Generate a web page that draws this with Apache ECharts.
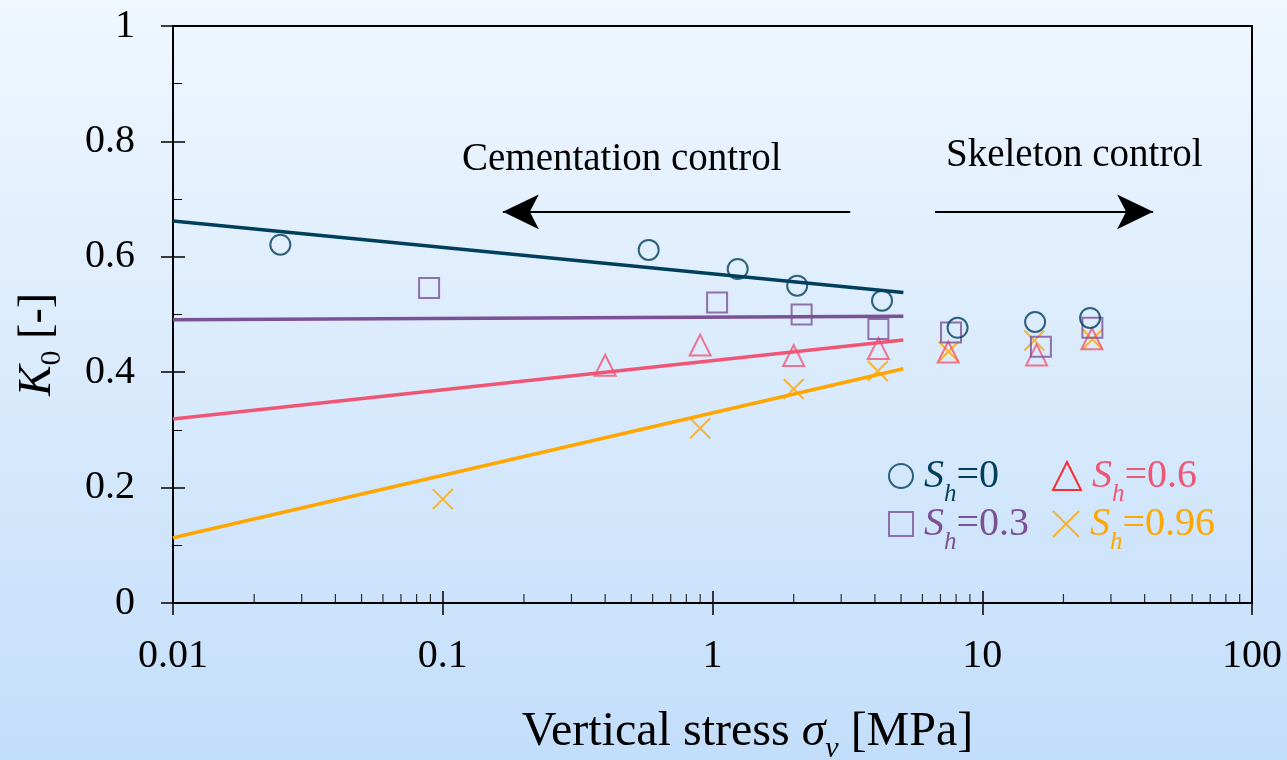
<!DOCTYPE html>
<html>
<head>
<meta charset="utf-8">
<script src="https://cdn.jsdelivr.net/npm/echarts@6/dist/echarts.min.js"></script>
<style>
html,body{margin:0;padding:0;}
#main{width:1287px;height:760px;}
</style>
</head>
<body>
<div id="main"></div>
<script>
// ---- data ----
const sh0X = [0.025, 0.58, 1.24, 2.06, 4.25, 8.1, 15.7, 25.1];
const sh0Y = [0.621, 0.612, 0.579, 0.550, 0.524, 0.477, 0.487, 0.494];
const sh03X = [0.089, 1.04, 2.14, 4.12, 7.66, 16.5, 25.6];
const sh03Y = [0.546, 0.521, 0.500, 0.475, 0.469, 0.444, 0.477];
const sh06X = [0.40, 0.90, 2.0, 4.12, 7.48, 15.9, 25.5];
const sh06Y = [0.412, 0.447, 0.429, 0.441, 0.435, 0.430, 0.458];
const sh096X = [0.1, 0.9, 2.0, 4.1, 7.5, 15.6, 25.6];
const sh096Y = [0.180, 0.303, 0.371, 0.402, 0.436, 0.455, 0.457];

const fitX = [0.01, 5.1];
const fit0Y = [0.662, 0.538];
const fit03Y = [0.491, 0.497];
const fit06Y = [0.319, 0.456];
const fit096Y = [0.113, 0.406];

const xTickLabels = ['0.01', '0.1', '1', '10', '100'];
const xMinorTicks = [0.02,0.03,0.04,0.05,0.06,0.07,0.08,0.09,
                     0.2,0.3,0.4,0.5,0.6,0.7,0.8,0.9,
                     2,3,4,5,6,7,8,9,
                     20,30,40,50,60,70,80,90];

const arrowLeft = [[3.24, 0.678], [0.167, 0.678]];
const arrowRight = [[6.68, 0.678], [43, 0.678]];

const legendLabels = {'Sh=0': '=0', 'Sh=0.3': '=0.3', 'Sh=0.6': '=0.6', 'Sh=0.96': '=0.96'};

// ---- styles ----
const FONT = "'Liberation Serif', 'Times New Roman', serif";
const C0 = '#003f5c', C1 = '#7a5195', C2 = '#ef5675', C3 = '#ffa600';
const crossPath = 'path://M0,0L10,10M10,0L0,10';

function zip(xs, ys) { return xs.map((x, i) => [x, ys[i]]); }

function legendCfg(name, color, left, top, size, iconOverride) {
  const item = {name: name};
  if (iconOverride) item.itemStyle = iconOverride;
  return {
    data: [item],
    left: left, top: top, padding: 0,
    itemWidth: size, itemHeight: size,
    selectedMode: false,
    formatter: n => '{s|S}{h|h}{n|' + legendLabels[n] + '}',
    textStyle: {
      color: color, fontFamily: FONT,
      rich: {
        s: {fontStyle: 'italic', fontSize: 40, lineHeight: 40, verticalAlign: 'top', color: color, fontFamily: FONT, padding: [0, 0, 0, 6]},
        h: {fontStyle: 'italic', fontSize: 25, lineHeight: 25, verticalAlign: 'top', color: color, fontFamily: FONT, padding: [26, 0, 0, 0]},
        n: {fontSize: 40, lineHeight: 40, verticalAlign: 'top', color: color, fontFamily: FONT}
      }
    }
  };
}

function scatter(name, data, symbol, color, size) {
  return {
    name: name, type: 'scatter', data: data, symbol: symbol, symbolSize: size,
    itemStyle: {color: 'transparent', borderColor: color, borderWidth: 2},
    emphasis: {disabled: true}, z: 4
  };
}
function fitLine(name, data, color) {
  return {
    name: name, type: 'line', data: data, showSymbol: false, symbol: 'none',
    lineStyle: {color: color, width: 3.5}, emphasis: {disabled: true}, z: 3, silent: true
  };
}

const chart = echarts.init(document.getElementById('main'));
const option = {
  animation: false,
  backgroundColor: {
    type: 'linear', x: 0, y: 0, x2: 0, y2: 1,
    colorStops: [{offset: 0, color: '#f0f7ff'}, {offset: 1, color: '#c3defa'}]
  },
  grid: {left: 173, right: 35, top: 26, bottom: 157, show: true, borderColor: '#000', borderWidth: 2,
         backgroundColor: 'transparent', outerBoundsMode: 'none', containLabel: false},
  xAxis: [{
    type: 'log', logBase: 10, min: 0.01, max: 100,
    name: '{a|Vertical stress }{i|σ}{v|v}{a| [MPa]}',
    nameLocation: 'middle', nameGap: 105,
    nameTextStyle: {
      padding: [0, 0, 0, 70],
      rich: {
        a: {fontSize: 48, fontFamily: FONT, color: '#000', lineHeight: 48, verticalAlign: 'top'},
        i: {fontSize: 48, fontFamily: FONT, color: '#000', fontStyle: 'italic', lineHeight: 48, verticalAlign: 'top'},
        v: {fontSize: 30, fontFamily: FONT, color: '#000', fontStyle: 'italic', lineHeight: 30, verticalAlign: 'top', padding: [26, 0, 0, 0]}
      }
    },
    axisLine: {show: true, lineStyle: {color: '#000', width: 2}},
    axisTick: {show: true, inside: false, length: 12, lineStyle: {color: '#000', width: 1.5}},
    axisLabel: {
      show: true, margin: 33, color: '#000', fontSize: 40, fontFamily: FONT,
      formatter: (v, i) => xTickLabels[i]
    },
    splitLine: {show: false}
  }, {
    type: 'log', logBase: 10, min: 0.01, max: 100, position: 'bottom',
    axisLine: {show: false},
    axisTick: {show: true, inside: true, length: 12, lineStyle: {color: '#000', width: 1.5}},
    axisLabel: {show: false}, splitLine: {show: false}
  }],
  yAxis: [{
    type: 'value', min: 0, max: 1, interval: 0.2,
    name: '{k|K}{z|0}{b| [-]}',
    nameLocation: 'middle', nameGap: 112, nameRotate: 90,
    nameTextStyle: {
      padding: [0, 60, 0, 0],
      rich: {
        k: {fontSize: 46, fontFamily: FONT, color: '#000', fontStyle: 'italic', lineHeight: 46, verticalAlign: 'top'},
        b: {fontSize: 46, fontFamily: FONT, color: '#000', lineHeight: 46, verticalAlign: 'top'},
        z: {fontSize: 30, fontFamily: FONT, color: '#000', lineHeight: 30, verticalAlign: 'top', padding: [22, 0, 0, 0]}
      }
    },
    axisLine: {show: true, lineStyle: {color: '#000', width: 2}},
    axisTick: {show: true, inside: false, length: 12, lineStyle: {color: '#000', width: 1.5}},
    axisLabel: {show: true, margin: 38, color: '#000', fontSize: 40, fontFamily: FONT},
    splitLine: {show: false}
  }, {
    type: 'value', min: 0, max: 1, interval: 0.2, position: 'left',
    axisLine: {show: false},
    axisTick: {show: true, inside: true, length: 12, lineStyle: {color: '#000', width: 1.5}},
    minorTick: {show: true, splitNumber: 2, length: 9, lineStyle: {color: '#000', width: 1}},
    axisLabel: {show: false}, splitLine: {show: false}
  }],
  legend: [
    legendCfg('Sh=0', C0, 888, 456, 24),
    legendCfg('Sh=0.3', C1, 888, 504, 24),
    legendCfg('Sh=0.6', C2, 1052, 456, 28, {borderColor: '#ff0000'}),
    legendCfg('Sh=0.96', C3, 1052, 504, 26)
  ],
  graphic: [
    {type: 'text', left: 462, top: 140, style: {text: 'Cementation control', font: "39px 'Liberation Serif', serif", fill: '#000'}, silent: true},
    {type: 'text', left: 946, top: 136, style: {text: 'Skeleton control', font: "39px 'Liberation Serif', serif", fill: '#000'}, silent: true}
  ],
  series: [
    fitLine('fit0', zip(fitX, fit0Y), C0),
    fitLine('fit03', zip(fitX, fit03Y), C1),
    fitLine('fit06', zip(fitX, fit06Y), C2),
    fitLine('fit096', zip(fitX, fit096Y), C3),
    scatter('Sh=0.96', zip(sh096X, sh096Y), crossPath, C3, 20),
    scatter('Sh=0.6', zip(sh06X, sh06Y), 'triangle', C2, [21, 21]),
    scatter('Sh=0.3', zip(sh03X, sh03Y), 'rect', C1, 20),
    scatter('Sh=0', zip(sh0X, sh0Y), 'circle', C0, 20),
    {
      name: 'minorTicks', type: 'scatter', silent: true, z: 5,
      data: xMinorTicks.map(v => [v, 0]),
      symbol: 'rect', symbolSize: [1.2, 9], symbolOffset: [0, -4.5],
      itemStyle: {color: '#000'}, emphasis: {disabled: true}
    },
    {
      name: 'arrows', type: 'line', data: [], silent: true, z: 5,
      markLine: {
        silent: true, symbol: ['none', 'arrow'], symbolSize: [26, 36],
        label: {show: false},
        lineStyle: {color: '#000', width: 2, type: 'solid'},
        data: [
          [{coord: arrowLeft[0]}, {coord: arrowLeft[1]}],
          [{coord: arrowRight[0]}, {coord: arrowRight[1]}]
        ]
      }
    }
  ]
};
chart.setOption(option);
</script>
</body>
</html>
